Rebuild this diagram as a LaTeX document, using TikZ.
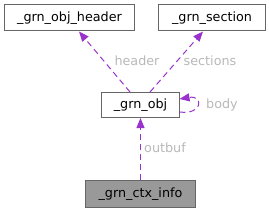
\documentclass[tikz,border=0pt]{standalone}
\usepackage{fontspec}
\setmainfont{DejaVu Sans}
\usetikzlibrary{arrows.meta}
\definecolor{edgepurple}{HTML}{9A32CD}
\definecolor{labelgrey}{HTML}{B8B8B8}
\definecolor{boxgrey}{HTML}{666666}
\definecolor{fillgrey}{HTML}{999999}
\begin{document}
\begin{tikzpicture}[
  x=1bp,
  y=1bp,
  >={Stealth[length=10bp,width=8bp,inset=0pt]},
  every node/.style={font=\fontsize{12.8}{14}\selectfont},
  cls/.style={draw=boxgrey, line width=1bp, rectangle, minimum height=26bp, inner sep=0pt, fill=white},
  ref/.style={->, dashed, edgepurple, line width=1bp, dash pattern=on 6bp off 4bp},
  lbl/.style={text=labelgrey}
]
\useasboundingbox (0,0) rectangle (269,212);
\node[cls, minimum width=129bp] (hdr) at (69.5,194) {\_grn\_obj\_header};
\node[cls, minimum width=106bp] (sect) at (212,194) {\_grn\_section};
\node[cls, minimum width=77bp, minimum height=25bp] (obj) at (140.5,107) {\_grn\_obj};
\node[cls, minimum width=109bp, fill=fillgrey] (ctx) at (140.5,18) {\_grn\_ctx\_info};

\draw[ref] ([xshift=-10.5bp]obj.north) -- ([xshift=9.5bp]hdr.south);
\node[lbl] (lhdr) at (137,151) {header};
\draw[ref] ([xshift=9.5bp]obj.north) -- ([xshift=-9bp]sect.south);
\node[lbl] (lsect) at (210,151) {sections};

\draw[ref] ([yshift=-7bp]obj.east) .. controls +(24,-3) and +(24,4) .. ([yshift=6bp]obj.east);
\node[lbl] (lbody) at (222,107) {body};

\draw[ref] (ctx.north) -- (obj.south);
\node[lbl] (lout) at (165,64) {outbuf};
\end{tikzpicture}
\end{document}
